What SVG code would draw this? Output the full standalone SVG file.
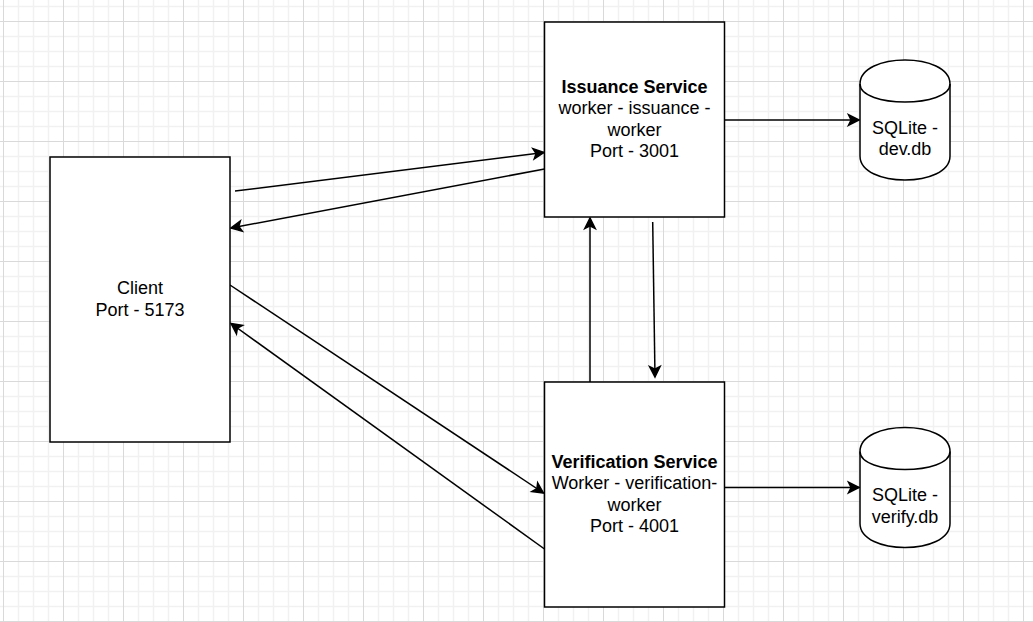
<svg xmlns="http://www.w3.org/2000/svg" width="1033" height="622" viewBox="0 0 1033 622">
  <defs>
    <pattern id="grid" patternUnits="userSpaceOnUse" x="-4" y="14" width="60" height="60">
      <path d="M22.5,0V60M37.5,0V60M52.5,0V60M0,22.5H60M0,37.5H60M0,52.5H60" stroke="#f1f1f1" stroke-width="1.5" fill="none"/>
      <path d="M7.5,0V60M0,7.5H60" stroke="#d9d9d9" stroke-width="1" fill="none"/>
    </pattern>
    <marker id="arrow" markerUnits="userSpaceOnUse" viewBox="-13 -8 16 16" markerWidth="16" markerHeight="16" refX="0" refY="0" orient="auto">
      <path d="M0,0 L-10.5,-5.25 L-7.9,0 L-10.5,5.25 Z" fill="#000" stroke="#000" stroke-width="1.5"/>
    </marker>
    <style>
      .box { fill: #fff; stroke: #000; stroke-width: 1.5; }
      .edge { fill: none; stroke: #000; stroke-width: 1.5; marker-end: url(#arrow); }
      .lbl { font-family: "Liberation Sans", Arial, sans-serif; font-size: 18px; fill: #000; text-anchor: middle; }
      .b { font-weight: bold; }
    </style>
  </defs>

  <rect x="0" y="0" width="1033" height="622" fill="#fff"/>
  <rect x="0" y="0" width="1033" height="622" fill="url(#grid)"/>

  <g id="connectors">
    <line class="edge" x1="235" y1="191" x2="544" y2="152.5"/>
    <line class="edge" x1="544.5" y1="169" x2="231" y2="228"/>
    <line class="edge" x1="230" y1="285" x2="543.5" y2="493"/>
    <line class="edge" x1="544.5" y1="549" x2="231" y2="323.5"/>
    <line class="edge" x1="590" y1="382" x2="590" y2="218"/>
    <line class="edge" x1="652.7" y1="222" x2="655" y2="377"/>
    <line class="edge" x1="724.5" y1="120" x2="859" y2="120"/>
    <line class="edge" x1="724.5" y1="487.5" x2="859" y2="487.5"/>
  </g>

  <g id="client">
    <rect class="box" x="50" y="157" width="180" height="285"/>
    <text class="lbl" x="140" y="294.2">Client</text>
    <text class="lbl" x="140" y="315.8">Port - 5173</text>
  </g>

  <g id="issuance-service">
    <rect class="box" x="544.5" y="22" width="180" height="195"/>
    <text class="lbl b" x="634.5" y="92.7">Issuance Service</text>
    <text class="lbl" x="634.5" y="114">worker - issuance -</text>
    <text class="lbl" x="634.5" y="135.5">worker</text>
    <text class="lbl" x="634.5" y="157">Port - 3001</text>
  </g>

  <g id="verification-service">
    <rect class="box" x="544.5" y="382" width="180" height="225"/>
    <text class="lbl b" x="634.5" y="467.5">Verification Service</text>
    <text class="lbl" x="634.5" y="489">Worker - verification-</text>
    <text class="lbl" x="634.5" y="510.5">worker</text>
    <text class="lbl" x="634.5" y="532">Port - 4001</text>
  </g>

  <g id="sqlite-dev">
    <path class="box" d="M860,84 C860,52 950,52 950,84 L950,156 C950,188 860,188 860,156 Z"/>
    <path class="box" fill="none" d="M860,84 C860,108 950,108 950,84" style="fill:none"/>
    <text class="lbl" x="905" y="133.5">SQLite -</text>
    <text class="lbl" x="905" y="155">dev.db</text>
  </g>

  <g id="sqlite-verify">
    <path class="box" d="M860,451.5 C860,419.5 950,419.5 950,451.5 L950,523.5 C950,555.5 860,555.5 860,523.5 Z"/>
    <path class="box" d="M860,451.5 C860,475.5 950,475.5 950,451.5" style="fill:none"/>
    <text class="lbl" x="905" y="501">SQLite -</text>
    <text class="lbl" x="905" y="522.5">verify.db</text>
  </g>
</svg>
